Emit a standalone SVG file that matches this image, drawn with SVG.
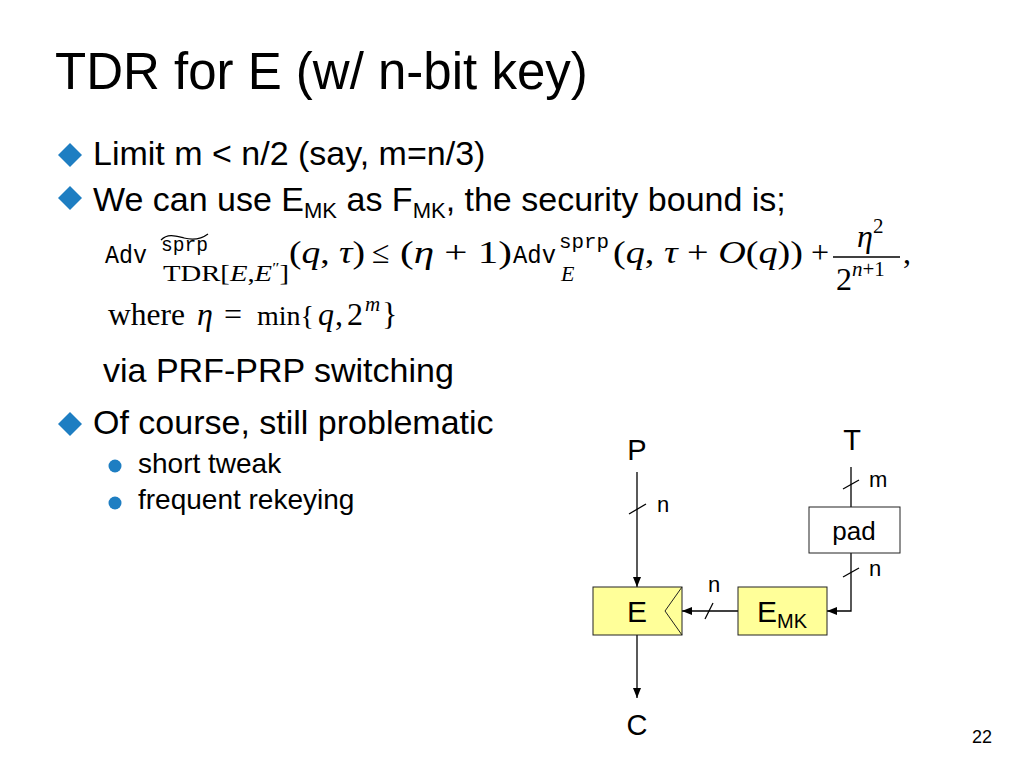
<svg xmlns="http://www.w3.org/2000/svg" width="1024" height="768" viewBox="0 0 1024 768">
<defs>
<style>
.sans{font-family:"Liberation Sans",Arial,sans-serif;fill:#000}
.ser{font-family:"Liberation Serif","Times New Roman",serif;fill:#000}
.mono{font-family:"Liberation Mono","DejaVu Sans Mono",monospace;fill:#000}
.it{font-style:italic}
.bul{fill:#1E7EC2}
.ln{stroke:#000;stroke-width:1.3;fill:none}
.box{fill:#FFFF99;stroke:#222;stroke-width:1}
.wbox{fill:#fff;stroke:#222;stroke-width:1}
</style>
<marker id="ah" viewBox="0 0 10 10" refX="10" refY="5" markerWidth="10" markerHeight="10" markerUnits="userSpaceOnUse" orient="auto">
<path d="M0,1 L10,5 L0,9 Z" fill="#000"/>
</marker>
</defs>
<rect width="1024" height="768" fill="#fff"/>

<text class="sans" x="55" y="89" font-size="51">TDR for E (w/ n-bit key)</text>

<g id="bullets">
<path class="bul" d="M70,143 L82,155 L70,167 L58,155 Z"/>
<text class="sans" x="93" y="165" font-size="34">Limit m &lt; n/2 (say, m=n/3)</text>
<path class="bul" d="M70,186 L82,198 L70,210 L58,198 Z"/>
<text class="sans" x="93" y="211" font-size="34">We can use E<tspan font-size="22" dy="7">MK</tspan><tspan dy="-7"> as F</tspan><tspan font-size="22" dy="7">MK</tspan><tspan dy="-7">, the security bound is;</tspan></text>
<text class="sans" x="103" y="382" font-size="34">via PRF-PRP switching</text>
<path class="bul" d="M70,412 L82,424 L70,436 L58,424 Z"/>
<text class="sans" x="93" y="434" font-size="34">Of course, still problematic</text>
<circle class="bul" cx="115" cy="466" r="6.5"/>
<text class="sans" x="138" y="473" font-size="28">short tweak</text>
<circle class="bul" cx="115" cy="503" r="6.5"/>
<text class="sans" x="138" y="509" font-size="28">frequent rekeying</text>
</g>

<g id="formula">
<text class="mono" x="105" y="263" font-size="26" textLength="42" lengthAdjust="spacingAndGlyphs">Adv</text>
<path d="M161,240 C168,233 176,236 184,238 C192,240 200,240 208,234" stroke="#000" stroke-width="1.2" fill="none"/>
<text class="mono" x="161" y="251" font-size="20" textLength="47" lengthAdjust="spacingAndGlyphs">sprp</text>
<text class="ser" x="163" y="281" font-size="23" textLength="126" lengthAdjust="spacingAndGlyphs">TDR[<tspan class="it">E</tspan>,<tspan class="it">E</tspan><tspan font-size="14" dy="-8">″</tspan><tspan dy="8">]</tspan></text>
<text class="ser" x="289" y="263" font-size="32" textLength="76" lengthAdjust="spacingAndGlyphs">(<tspan class="it">q</tspan>, <tspan class="it">τ</tspan>)</text>
<text class="ser" x="372" y="263" font-size="32">≤</text>
<text class="ser" x="400" y="263" font-size="32" textLength="112" lengthAdjust="spacingAndGlyphs">(<tspan class="it">η</tspan> + 1)</text>
<text class="mono" x="513" y="263" font-size="25" textLength="43" lengthAdjust="spacingAndGlyphs">Adv</text>
<text class="mono" x="559" y="248" font-size="20" textLength="50" lengthAdjust="spacingAndGlyphs">sprp</text>
<text class="ser it" x="561" y="281" font-size="22">E</text>
<text class="ser" x="613" y="263" font-size="32" textLength="190" lengthAdjust="spacingAndGlyphs">(<tspan class="it">q</tspan>, <tspan class="it">τ</tspan> + <tspan class="it">O</tspan>(<tspan class="it">q</tspan>))</text>
<text class="ser" x="811" y="263" font-size="32">+</text>
<text class="ser it" x="857" y="247" font-size="32">η</text>
<text class="ser" x="873" y="233" font-size="21">2</text>
<line x1="833" y1="257" x2="900" y2="257" stroke="#000" stroke-width="1.3"/>
<text class="ser" x="836" y="290" font-size="32">2</text>
<text class="ser" x="852" y="276" font-size="21"><tspan class="it">n</tspan>+1</text>
<text class="ser" x="903" y="263" font-size="32">,</text>
<text class="ser" x="108" y="325" font-size="32" textLength="77" lengthAdjust="spacingAndGlyphs">where</text>
<text class="ser it" x="197" y="325" font-size="32">η</text>
<text class="ser" x="224" y="325" font-size="32">=</text>
<text class="ser" x="257" y="325" font-size="28">min{</text>
<text class="ser it" x="318" y="325" font-size="32">q</text>
<text class="ser" x="335" y="325" font-size="32">,</text>
<text class="ser" x="347" y="325" font-size="32">2</text>
<text class="ser it" x="365" y="311" font-size="21">m</text>
<text class="ser" x="382" y="325" font-size="32">}</text>
</g>

<g id="connectors">
<line class="ln" x1="637" y1="472" x2="637" y2="587" marker-end="url(#ah)"/>
<line class="ln" x1="629" y1="514" x2="646" y2="504"/>
<line class="ln" x1="637" y1="635" x2="637" y2="698" marker-end="url(#ah)"/>
<line class="ln" x1="738" y1="611" x2="682" y2="611" marker-end="url(#ah)"/>
<line class="ln" x1="705" y1="619" x2="713" y2="603"/>
<line class="ln" x1="851" y1="467" x2="851" y2="507"/>
<line class="ln" x1="843" y1="489" x2="859" y2="480"/>
<polyline class="ln" points="851,553 851,611 827,611" marker-end="url(#ah)"/>
<line class="ln" x1="843" y1="577" x2="859" y2="568"/>
<text class="sans" x="657" y="512" font-size="22">n</text>
<text class="sans" x="708" y="592" font-size="22">n</text>
<text class="sans" x="869" y="487" font-size="22">m</text>
<text class="sans" x="869" y="576" font-size="22">n</text>
</g>

<g id="P"><text class="sans" x="637" y="460" font-size="29" text-anchor="middle">P</text></g>
<g id="T"><text class="sans" x="852" y="450" font-size="29" text-anchor="middle">T</text></g>
<g id="C"><text class="sans" x="637" y="735" font-size="29" text-anchor="middle">C</text></g>
<g id="E">
<rect class="box" x="593" y="587" width="89" height="48"/>
<polyline points="682,587 665,611 682,635" fill="none" stroke="#222" stroke-width="1"/>
<text class="sans" x="637" y="622" font-size="30" text-anchor="middle">E</text>
</g>
<g id="EMK">
<rect class="box" x="738" y="587" width="89" height="48"/>
<text class="sans" x="757" y="622" font-size="30">E<tspan font-size="20" dy="6">MK</tspan></text>
</g>
<g id="pad">
<rect class="wbox" x="809" y="507" width="91" height="46"/>
<text class="sans" x="854" y="540" font-size="26" text-anchor="middle">pad</text>
</g>

<text class="sans" x="972" y="743" font-size="18">22</text>
</svg>
